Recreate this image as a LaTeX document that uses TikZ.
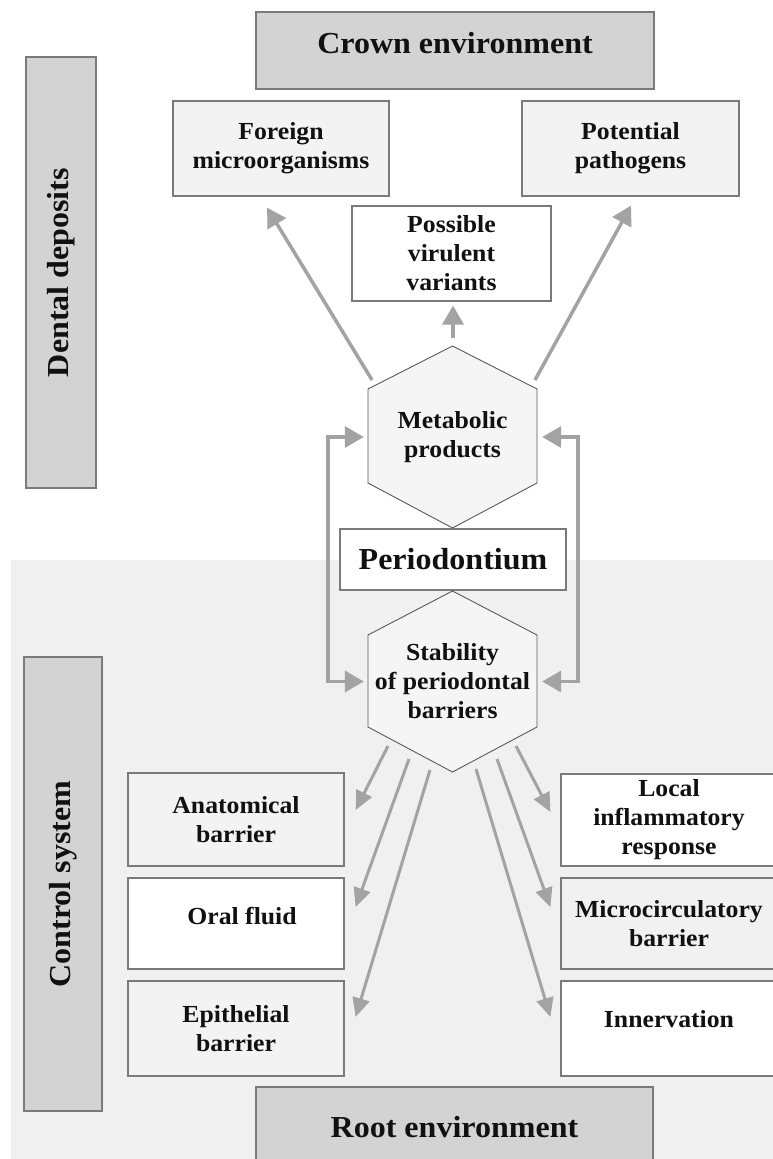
\documentclass[tikz,border=0pt]{standalone}
\usepackage{fontspec}
\setmainfont{Liberation Serif}[FakeStretch=1.05]
\usetikzlibrary{arrows.meta,calc}
\definecolor{envgray}{HTML}{D3D3D3}
\definecolor{lightbox}{HTML}{F3F3F3}
\definecolor{bggray}{HTML}{F0F0F0}
\definecolor{edgegray}{HTML}{7A7A7A}
\definecolor{arrowgray}{HTML}{A3A3A3}
\definecolor{hexfill}{HTML}{F5F5F5}
\definecolor{hexedge}{HTML}{5A5A5A}
\definecolor{txt}{HTML}{111111}
\begin{document}
\begin{tikzpicture}[x=1pt,y=-1pt,
  bigfont/.style={font=\fontsize{30.5}{36}\selectfont\bfseries},
  smallfont/.style={font=\fontsize{24.5}{29}\selectfont\bfseries},
  box/.style={draw=edgegray, line width=1.2pt, inner sep=0pt, align=center, text=txt},
  envbox/.style={box, fill=envgray, bigfont},
  sidebox/.style={box, fill=envgray, bigfont, rotate=90},
  graybox/.style={box, fill=lightbox, smallfont},
  whitebox/.style={box, fill=white, smallfont},
  hexlabel/.style={smallfont, align=center, text=txt, inner sep=0pt},
  hexshape/.style={fill=hexfill, draw=hexedge, line width=0.9pt, line join=miter},
  arr/.style={draw=arrowgray, line width=3.5pt, -{Triangle[length=19pt,width=21pt]}},
  dblarr/.style={draw=arrowgray, line width=3.5pt, line join=miter, {Triangle[length=19pt,width=21pt]}-{Triangle[length=19pt,width=21pt]}},
  thinarr/.style={draw=arrowgray, line width=3pt, -{Triangle[length=19pt,width=17pt]}},
]
\useasboundingbox (0,0) rectangle (773,1159);
\fill[white] (0,0) rectangle (773,1159);
\fill[bggray] (11,560) rectangle (780,1165);

% top area
\node[envbox, minimum width=398pt, minimum height=77pt, text height=21pt, text depth=14.5pt] (crown) at (455,50.5) {Crown environment};
\node[sidebox, minimum width=431pt, minimum height=70pt] (dental) at (61,272.5) {Dental deposits};
\node[graybox, minimum width=216pt, minimum height=95pt] (foreign) at (281,148.5) {Foreign\\microorganisms};
\node[graybox, minimum width=217pt, minimum height=95pt] (potential) at (630.5,148.5) {Potential\\pathogens};
\node[whitebox, minimum width=199pt, minimum height=95pt] (virulent) at (451.5,253.5) {Possible\\virulent\\variants};

% metabolic hexagon
\coordinate (mc) at (452.5,437);
\draw[hexshape] ($(mc)+(0,-91)$) -- ($(mc)+(84.5,-48)$) -- ($(mc)+(84.5,46)$) -- ($(mc)+(0,91)$) -- ($(mc)+(-84.5,46)$) -- ($(mc)+(-84.5,-48)$) -- cycle;
\node[hexlabel, minimum width=169pt, minimum height=182pt] (met) at (mc) {Metabolic\\products};

% periodontium
\node[box, fill=white, bigfont, minimum width=226pt, minimum height=61pt] (perio) at (453,559.5) {Periodontium};

% stability hexagon
\coordinate (sc) at (452.5,681.5);
\draw[hexshape] ($(sc)+(0,-90.5)$) -- ($(sc)+(84.5,-46.5)$) -- ($(sc)+(84.5,45.5)$) -- ($(sc)+(0,90.5)$) -- ($(sc)+(-84.5,45.5)$) -- ($(sc)+(-84.5,-46.5)$) -- cycle;
\node[hexlabel, minimum width=169pt, minimum height=181pt] (stab) at (sc) {Stability\\of periodontal\\barriers};

% bottom boxes
\node[graybox, minimum width=216pt, minimum height=93pt] (anat) at (236,819.5) {Anatomical\\barrier};
\node[whitebox, minimum width=216pt, minimum height=91pt, text height=17pt, text depth=14.5pt] (oral) at (236,923.5) {\hspace*{12pt}Oral fluid};
\node[graybox, minimum width=216pt, minimum height=95pt] (epi) at (236,1028.5) {Epithelial\\barrier};
\node[whitebox, minimum width=216pt, minimum height=92pt] (local) at (669,820) {Local\\inflammatory\\response};
\node[graybox, fill=bggray!70!lightbox, minimum width=216pt, minimum height=91pt] (micro) at (669,923.5) {Microcirculatory\\barrier};
\node[whitebox, minimum width=216pt, minimum height=95pt, text height=17pt, text depth=18.5pt] (inn) at (669,1028.5) {Innervation};
\node[sidebox, minimum width=454pt, minimum height=78pt] (control) at (63,884) {Control system};
\node[envbox, minimum width=397pt, minimum height=80pt] (root) at (454.5,1127) {Root environment};

% arrows from metabolic products
\draw[arr] ($(mc)+(-80.5,-57)$) -- ($(foreign.south)+(-14,11)$);
\draw[arr] ($(mc)+(82.5,-57)$) -- ($(potential.south)+(0.5,9)$);
\draw[arr] ($(mc)+(0.5,-99)$) -- ($(virulent.south)+(1.5,4)$);

% feedback brackets
\draw[dblarr] ($(met.west)+(-4,0)$) -- ++(-36,0) |- ($(stab.west)+(-4,0)$);
\draw[dblarr] ($(met.east)+(5,0)$) -- ++(36,0) |- ($(stab.east)+(5,0)$);

% arrows from stability
\draw[thinarr] ($(sc)+(-64.5,64.5)$) -- ($(anat.east)+(11,-9.5)$);
\draw[thinarr] ($(sc)+(-43.5,77.5)$) -- ($(oral.east)+(11,-16.5)$);
\draw[thinarr] ($(sc)+(-22.5,88.5)$) -- ($(epi.east)+(11,-11.5)$);
\draw[thinarr] ($(sc)+(63.5,64.5)$) -- ($(local.west)+(-10,-8)$);
\draw[thinarr] ($(sc)+(44.5,77.5)$) -- ($(micro.west)+(-10,-16.5)$);
\draw[thinarr] ($(sc)+(23.5,87.5)$) -- ($(inn.west)+(-10,-11.5)$);
\end{tikzpicture}
\end{document}
